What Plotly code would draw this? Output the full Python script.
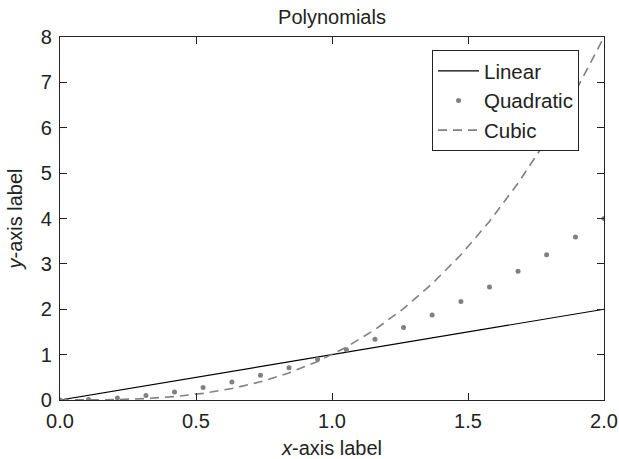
import plotly.graph_objects as go

# Linear series
x_lin = [0.0, 2.0]
y_lin = [0.0, 2.0]

# Quadratic series (dots)
x_pts = [0.0, 0.105, 0.211, 0.316, 0.421, 0.526, 0.632, 0.737, 0.842, 0.947,
         1.053, 1.158, 1.263, 1.368, 1.474, 1.579, 1.684, 1.789, 1.895, 2.0]
y_quad = [0.0, 0.011, 0.044, 0.100, 0.177, 0.277, 0.399, 0.543, 0.709, 0.898,
          1.108, 1.341, 1.596, 1.873, 2.172, 2.493, 2.837, 3.202, 3.590, 4.0]

# Cubic series (dashed)
y_cub = [0.0, 0.001, 0.009, 0.032, 0.075, 0.146, 0.252, 0.400, 0.597, 0.850,
         1.166, 1.552, 2.015, 2.562, 3.200, 3.936, 4.777, 5.729, 6.801, 8.0]

x_ticks = [0.0, 0.5, 1.0, 1.5, 2.0]
x_tick_text = ["0.0", "0.5", "1.0", "1.5", "2.0"]
y_ticks = [0, 1, 2, 3, 4, 5, 6, 7, 8]

FONT = "Liberation Sans, Arial, sans-serif"
FS = 20
W, H = 619, 459
ML, MR, MT, MB = 60, 15, 37, 59
PW = W - ML - MR
PH = H - MT - MB

fig = go.Figure()
fig.add_trace(go.Scatter(x=x_lin, y=y_lin, mode="lines", name="Linear",
                         line=dict(color="black", width=1.2)))
fig.add_trace(go.Scatter(x=x_pts, y=y_quad, mode="markers", name="Quadratic",
                         marker=dict(color="#808080", size=5)))
fig.add_trace(go.Scatter(x=x_pts, y=y_cub, mode="lines", name="Cubic",
                         line=dict(color="#808080", width=1.6, dash="9px,6px")))

axis_common = dict(showline=True, linecolor="#222222", linewidth=1.2, mirror="ticks",
                   ticks="inside", ticklen=7, tickcolor="#222222", showgrid=False,
                   zeroline=False, tickfont=dict(size=FS, color="#222222"),
                   automargin=False)

fig.update_layout(
    width=W, height=H,
    margin=dict(l=ML, r=MR, t=MT, b=MB),
    paper_bgcolor="white", plot_bgcolor="white",
    font=dict(family=FONT, size=FS, color="#222222"),
    title=dict(text="Polynomials", x=(ML + PW / 2) / W, xanchor="center",
               y=1 - 17 / H, yanchor="middle", font=dict(size=FS),
               automargin=False),
    xaxis=dict(range=[0, 2], tickvals=x_ticks, ticktext=x_tick_text,
               ticklabelstandoff=3,
               title=dict(text="<i>x</i>-axis label", standoff=12, font=dict(size=FS)),
               **axis_common),
    yaxis=dict(range=[0, 8], tickvals=y_ticks, ticklabelstandoff=3,
               title=dict(text="<i>y</i>-axis label", standoff=12, font=dict(size=FS)),
               **axis_common),
    legend=dict(x=(432 - ML) / PW, y=1 - (50 - MT) / PH, xanchor="left", yanchor="top",
                bordercolor="#222222", borderwidth=1, bgcolor="white",
                font=dict(size=20.5), tracegroupgap=0, itemwidth=41),
    showlegend=True,
)

fig.write_html("out.html",
               config={"displayModeBar": False},
               post_script="document.body.style.margin='0';document.body.style.overflow='hidden';")
